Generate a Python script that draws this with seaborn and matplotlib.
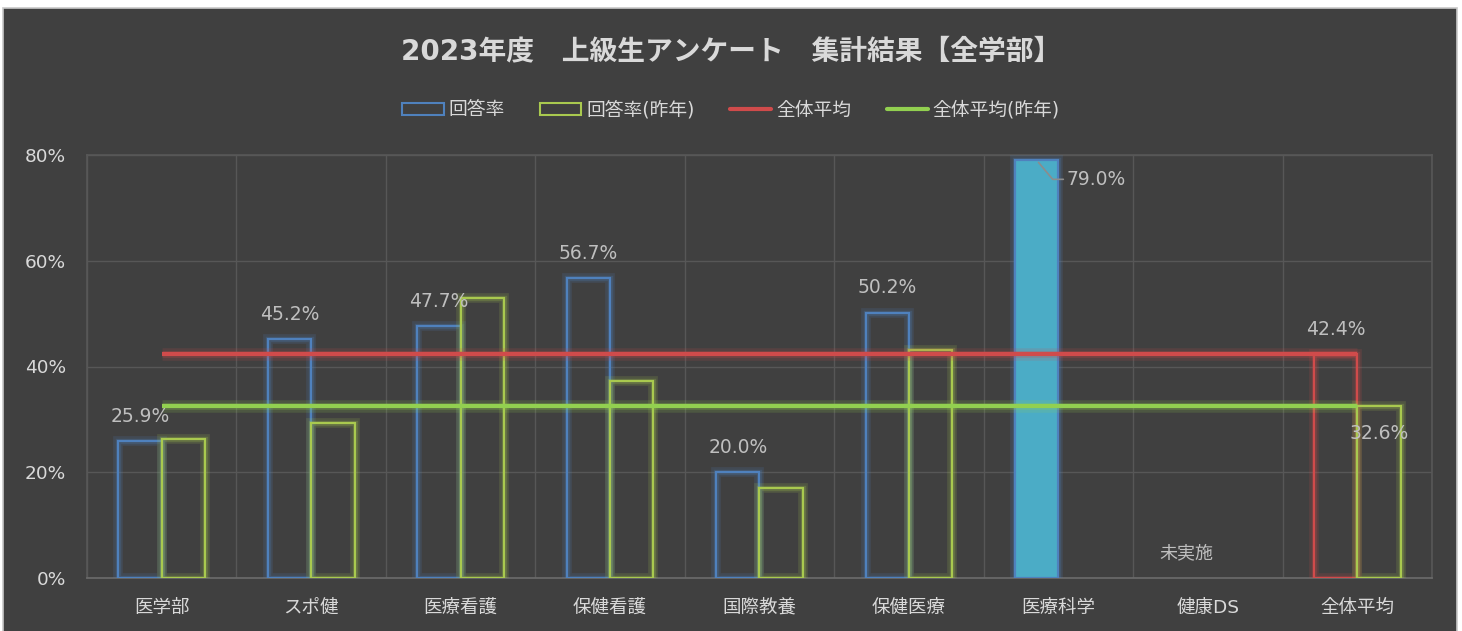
import numpy as np
import pandas as pd
import seaborn as sns
import matplotlib.pyplot as plt
from matplotlib import patheffects as pe
from matplotlib.patches import Rectangle, Patch
from matplotlib.lines import Line2D
from matplotlib.ticker import PercentFormatter, FixedLocator

# =============================================================================
# Data
# =============================================================================

categories = ["医学部", "スポ健", "医療看護", "保健看護", "国際教養",
              "保健医療", "医療科学", "健康DS", "全体平均"]
rate = [0.259, 0.452, 0.477, 0.567, 0.200, 0.502, 0.790, np.nan, 0.424]
rate_prev = [0.263, 0.293, 0.530, 0.373, 0.170, 0.431, np.nan, np.nan, 0.326]
avg_now = 0.424
avg_prev = 0.326
series_names = ["回答率", "回答率(昨年)", "全体平均", "全体平均(昨年)"]
not_done_label = "未実施"

# =============================================================================
# Style
# =============================================================================

bg = "#404040"
grid_c = "#575757"
text_c = "#d9d9d9"
label_c = "#bfbfbf"
blue = "#4f81bd"
green = "#a9c94f"
red = "#d04b4b"
line_green = "#92d050"
cyan = "#4bacc6"

sns.set_theme(style="dark")
plt.rcParams["font.family"] = ["DejaVu Sans", "Noto Sans CJK JP"]


def glow(color, w=7):
    return [pe.Stroke(linewidth=w, foreground=color, alpha=0.16),
            pe.Stroke(linewidth=w * 0.55, foreground=color, alpha=0.22),
            pe.Normal()]


df = pd.DataFrame({
    "category": categories * 2,
    "value": rate + rate_prev,
    "series": [series_names[0]] * len(categories) + [series_names[1]] * len(categories),
})

fig = plt.figure(figsize=(14.62, 6.31), dpi=100, facecolor="white")
fig.patches.append(Rectangle((3 / 1462, -0.01), 1454 / 1462, 1 - 8 / 631 + 0.01,
                             transform=fig.transFigure, facecolor=bg,
                             edgecolor="#c8c8c8", linewidth=1.2, zorder=-10))

ax = fig.add_axes([87 / 1462, 1 - 578 / 631, 1345 / 1462, 423 / 631])
ax.set_facecolor(bg)

sns.barplot(data=df, x="category", y="value", hue="series", order=categories,
            hue_order=series_names[:2], width=0.58, legend=False, ax=ax,
            errorbar=None)

# Restyle bars: outlines with soft glow
for k, cont in enumerate(ax.containers):
    for bar in cont:
        h = bar.get_height()
        if not np.isfinite(h) or h == 0:
            bar.set_visible(False)
            continue
        idx = int(round(bar.get_x() + bar.get_width() / 2 + (0.145 if k == 0 else -0.145)))
        if k == 0:
            if categories[idx] == "医療科学":
                bar.set_facecolor(cyan)
                bar.set_edgecolor(blue)
            elif categories[idx] == "全体平均":
                bar.set_facecolor("none")
                bar.set_edgecolor(red)
            else:
                bar.set_facecolor("none")
                bar.set_edgecolor(blue)
        else:
            bar.set_facecolor("none")
            bar.set_edgecolor(green)
        bar.set_linewidth(1.6)
        bar.set_path_effects(glow(bar.get_edgecolor()))
        bar.set_zorder(3)

# Average lines across category centres
ax.plot([0, len(categories) - 1], [avg_now, avg_now], color=red, lw=3,
        solid_capstyle="butt", zorder=4, path_effects=glow(red, 9))
ax.plot([0, len(categories) - 1], [avg_prev, avg_prev], color=line_green, lw=3,
        solid_capstyle="butt", zorder=4, path_effects=glow(line_green, 9))

# Data labels
lab_fs = 13.5
for i, v in enumerate(rate):
    if not np.isfinite(v):
        continue
    xc = i - 0.145
    if categories[i] == "医療科学":
        ax.annotate(f"{v * 100:.1f}%", xy=(xc + 0.0, v), xytext=(xc + 0.2, v - 0.036),
                    color=label_c, fontsize=lab_fs, va="center", ha="left",
                    arrowprops=dict(arrowstyle="-", color="#8c8c8c", lw=1.2,
                                    shrinkA=0, shrinkB=2,
                                    connectionstyle="angle,angleA=0,angleB=-50,rad=0"),
                    zorder=6)
    else:
        ax.annotate(f"{v * 100:.1f}%", xy=(xc, v), xytext=(0, 11),
                    textcoords="offset points", ha="center", va="bottom",
                    color=label_c, fontsize=lab_fs, zorder=6)

ax.annotate(f"{avg_prev * 100:.1f}%", xy=(len(categories) - 1 + 0.145, avg_prev),
            xytext=(0, -20), textcoords="offset points", ha="center", va="center",
            color=label_c, fontsize=lab_fs, zorder=6)
ax.text(categories.index("健康DS") - 0.145, 0.047, not_done_label, ha="center",
        va="center", color=label_c, fontsize=13)

# Axes
ax.set_xlim(-0.5, len(categories) - 0.5)
ax.set_ylim(0, 0.8)
ax.yaxis.set_major_locator(FixedLocator([0, 0.2, 0.4, 0.6, 0.8]))
ax.yaxis.set_major_formatter(PercentFormatter(1.0, decimals=0))
ax.xaxis.set_minor_locator(FixedLocator(np.arange(-0.5, len(categories), 1.0)))
ax.grid(axis="y", which="major", color=grid_c, lw=1)
ax.grid(axis="x", which="minor", color=grid_c, lw=1)
ax.grid(axis="x", which="major", visible=False)
ax.set_axisbelow(True)
ax.tick_params(axis="both", which="both", length=0, colors=text_c, labelsize=13.3)
ax.tick_params(axis="x", pad=15)
ax.tick_params(axis="y", pad=15)
ax.set_xlabel("")
ax.set_ylabel("")
for s in ax.spines.values():
    s.set_color(grid_c)
ax.spines["bottom"].set_color("#6a6a6a")

fig.text(0.5, 1 - 51 / 631, "2023年度　上級生アンケート　集計結果【全学部】",
         ha="center", va="center", color=text_c, fontsize=20, fontweight="bold")

handles = [
    Patch(facecolor="none", edgecolor=blue, lw=1.5, label=series_names[0]),
    Patch(facecolor="none", edgecolor=green, lw=1.5, label=series_names[1]),
    Line2D([], [], color=red, lw=3, label=series_names[2]),
    Line2D([], [], color=line_green, lw=3, label=series_names[3]),
]
leg = fig.legend(handles=handles, loc="center", bbox_to_anchor=(0.5, 1 - 110 / 631),
                 ncol=4, frameon=False, fontsize=13.5, labelcolor=text_c,
                 handlelength=2.2, handleheight=0.55, handletextpad=0.25, columnspacing=1.9)

fig.savefig("out.png", dpi=100, facecolor="white")
